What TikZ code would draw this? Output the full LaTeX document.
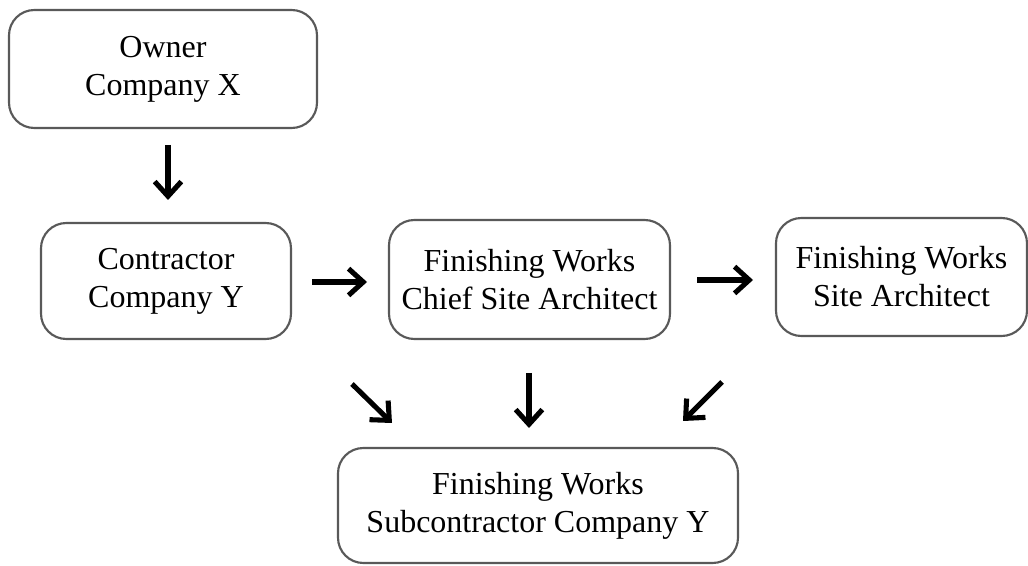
\documentclass[tikz,border=0pt]{standalone}
\usepackage{fontspec}
\setmainfont{Liberation Serif}
\usetikzlibrary{arrows.meta}

\definecolor{boxline}{HTML}{595959}

\tikzset{
  orgbox/.style={draw=boxline, line width=1.6pt, rounded corners=19pt,
    inner sep=0pt, align=center, font=\fontsize{24pt}{28.5pt}\selectfont},
  flow/.style={line width=3.8pt,
    -{Straight Barb[length=11pt,width=20pt]}},
}

\begin{document}
\begin{tikzpicture}[x=0.75pt,y=-0.75pt]
  \useasboundingbox (0,0) rectangle (1028,566);

  % organisation boxes
  \node[orgbox, minimum width=231pt, minimum height=88.5pt] (owner)
    at (163,69) {Owner\\Company X};
  \node[orgbox, minimum width=187.5pt, minimum height=87pt] (contractor)
    at (166,281) {Contractor\\Company Y};
  \node[orgbox, minimum width=210.75pt, minimum height=89.25pt] (chief)
    at (529.5,279.5) {Finishing Works\\Chief Site Architect};
  \node[orgbox, minimum width=188.25pt, minimum height=88.5pt] (site)
    at (901.5,277) {Finishing Works\\Site Architect};
  \node[orgbox, minimum width=300pt, minimum height=86.25pt] (sub)
    at (538,505.5) {Finishing Works\\Subcontractor Company Y};

  % free-standing arrow ends
  \coordinate (ownS) at (168,145);  \coordinate (ownE) at (168,200);
  \coordinate (conS) at (312,282);  \coordinate (conE) at (367,282);
  \coordinate (chS)  at (697,280);  \coordinate (chE)  at (753,280);
  \coordinate (dlS)  at (352,384);  \coordinate (dlE)  at (392,423);
  \coordinate (dmS)  at (529,373);  \coordinate (dmE)  at (529,428);
  \coordinate (drS)  at (722,382);  \coordinate (drE)  at (683,421);

  \draw[flow] (ownS) -- (ownE);
  \draw[flow] (conS) -- (conE);
  \draw[flow] (chS) -- (chE);
  \draw[flow] (dlS) -- (dlE);
  \draw[flow] (dmS) -- (dmE);
  \draw[flow] (drS) -- (drE);
\end{tikzpicture}
\end{document}
